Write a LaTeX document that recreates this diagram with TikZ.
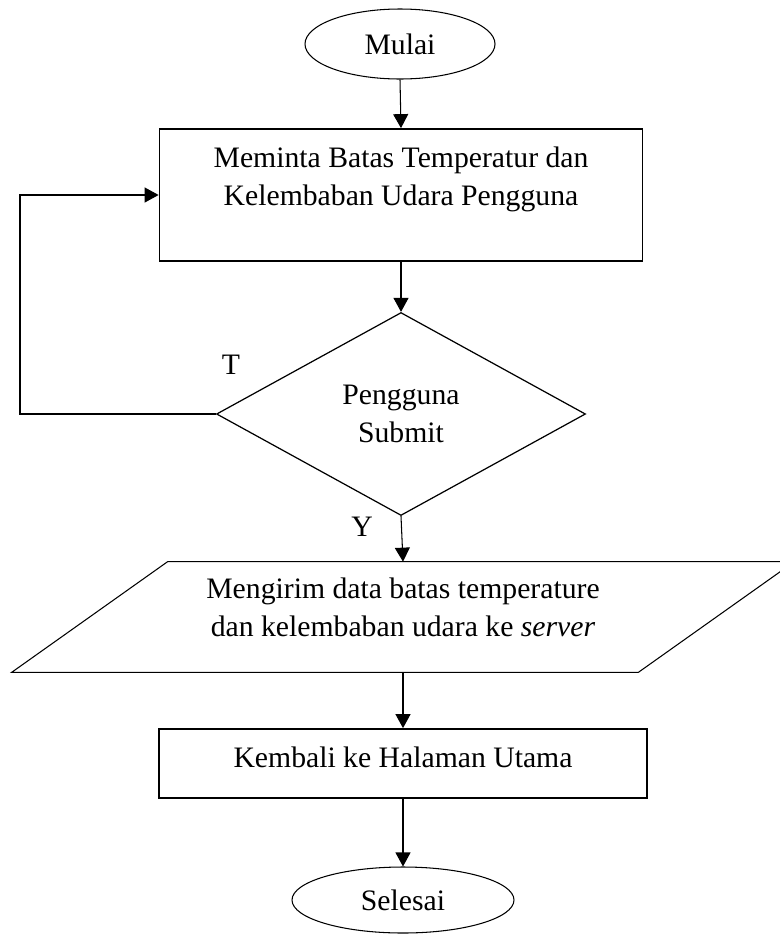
\documentclass[tikz,border=0pt]{standalone}
\usepackage{fontspec}
\setmainfont{Liberation Serif}
\usetikzlibrary{arrows.meta, shapes.geometric}

\begin{document}
\begin{tikzpicture}[
  font=\fontsize{16.9}{21.6}\selectfont,
  terminal/.style={ellipse, draw, line width=0.6pt, inner sep=0pt, text centered},
  process/.style={rectangle, draw, line width=1pt, inner sep=0pt, align=center},
  decision/.style={diamond, draw, line width=0.7pt, inner sep=0pt, align=center},
  io/.style={rectangle, inner sep=0pt, align=center},
  arr/.style={-{Triangle[length=0.28cm, width=0.3cm]}, line width=0.6pt}
]

\useasboundingbox (0,0) rectangle (15.6,-18.7);

\node[terminal, minimum width=3.8cm, minimum height=1.4cm] (mulai) at (8.0, -0.88) {Mulai};

\node[process, minimum width=9.66cm, minimum height=2.64cm] (minta) at (8.02, -3.9)
  {Meminta Batas Temperatur dan\\Kelembaban Udara Pengguna\\~};

\node[decision, minimum width=7.38cm, minimum height=4.06cm] (cek) at (8.02, -8.28) {Pengguna\\Submit};

\node[io, minimum width=12.52cm, minimum height=2.2cm, text depth=0.4cm] (kirim) at (8.06, -12.34)
  {Mengirim data batas temperature\\dan kelembaban udara ke \textit{server}};
\draw[line width=0.6pt] ([xshift=1.56cm]kirim.north west) -- ([xshift=1.56cm]kirim.north east)
  -- ([xshift=-1.56cm]kirim.south east) -- ([xshift=-1.56cm]kirim.south west) -- cycle;

\node[process, minimum width=9.76cm, minimum height=1.38cm, text depth=0.24cm] (kembali) at (8.06, -15.27) {Kembali ke Halaman Utama};

\node[terminal, minimum width=4.44cm, minimum height=1.32cm] (selesai) at (8.06, -18.0) {Selesai};

\node (lblT) at (4.62, -7.3) {T};
\node (lblY) at (7.24, -10.54) {Y};
\coordinate (kiri) at (0.4, -8.28);

\draw[arr] (mulai.south) -- (minta.north);
\draw[arr] (minta.south) -- (cek.north);
\draw[arr] (cek.south) -- (kirim.north);
\draw[arr] (kirim.south) -- (kembali.north);
\draw[arr] (kembali.south) -- (selesai.north);

\draw[arr] (cek.west) -- (kiri) |- (minta.west);

\end{tikzpicture}
\end{document}
